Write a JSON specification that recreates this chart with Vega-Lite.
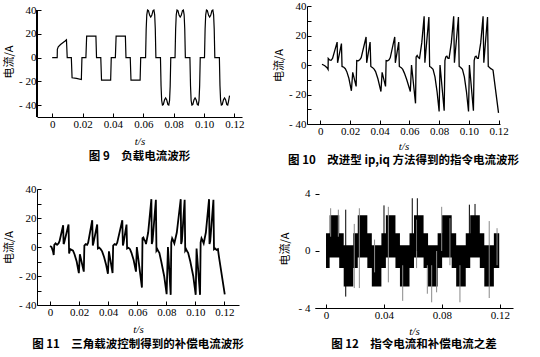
{
  "$schema": "https://vega.github.io/schema/vega-lite/v6.json",
  "padding": {"left": 3, "top": 0, "right": 4, "bottom": 2},
  "background": "white",
  "config": {
    "view": {"stroke": null},
    "axis": {"domainColor": "black", "tickColor": "black", "labelColor": "black", "titleColor": "black", "labelFont": "Liberation Serif", "labelFontSize": 11, "grid": false, "tickSize": -4, "domainWidth": 1, "tickWidth": 1, "labelPadding": 5, "titleFontWeight": "normal", "titleFontSize": 11, "labelOverlap": false},
    "axisX": {"titleFont": "Liberation Serif", "titleFontStyle": "italic", "titlePadding": 6, "labelExpr": "datum.value == 0 ? '0' : format(datum.value, '.2f')"},
    "axisY": {"titleFont": "Noto Sans CJK SC", "titlePadding": 4, "labelExpr": "datum.value < 0 ? '- ' + format(-datum.value, 'd') : format(datum.value, 'd')"},
    "title": {"orient": "bottom", "font": "Noto Sans CJK SC", "fontSize": 11.5, "fontWeight": "bold", "color": "black", "anchor": "middle", "offset": 5}
  },
  "spacing": 16,
  "vconcat": [
    {
      "spacing": 28,
      "hconcat": [
        {
          "width": 205, "height": 111,
          "title": {"text": "图 9　负载电流波形"},
          "data": {"values": [
            {"t": 0, "v": 0}, {"t": 0.0033, "v": 0}, {"t": 0.0034, "v": 7}, {"t": 0.004, "v": 9}, {"t": 0.0055, "v": 11}, {"t": 0.007, "v": 12.5}, {"t": 0.0085, "v": 14}, {"t": 0.0094, "v": 15}, {"t": 0.0099, "v": 0},
            {"t": 0.0126, "v": 0}, {"t": 0.0131, "v": -17}, {"t": 0.016, "v": -17.5}, {"t": 0.0192, "v": -18.5}, {"t": 0.0196, "v": 0},
            {"t": 0.0222, "v": 0}, {"t": 0.0227, "v": 18}, {"t": 0.0288, "v": 18}, {"t": 0.0292, "v": 0},
            {"t": 0.032, "v": 0}, {"t": 0.0325, "v": -19}, {"t": 0.0385, "v": -19}, {"t": 0.0389, "v": 0},
            {"t": 0.0416, "v": 0}, {"t": 0.0421, "v": 18}, {"t": 0.0482, "v": 18}, {"t": 0.0486, "v": 0},
            {"t": 0.0514, "v": 0}, {"t": 0.0519, "v": -19}, {"t": 0.0579, "v": -19}, {"t": 0.0583, "v": 0},
            {"t": 0.0615, "v": 0}, {"t": 0.0619, "v": 24}, {"t": 0.0623, "v": 36}, {"t": 0.0628, "v": 40}, {"t": 0.0634, "v": 39.5}, {"t": 0.0642, "v": 35.5}, {"t": 0.0649, "v": 34}, {"t": 0.0656, "v": 35.5}, {"t": 0.0664, "v": 39.5}, {"t": 0.067, "v": 40}, {"t": 0.0675, "v": 36}, {"t": 0.0679, "v": 24}, {"t": 0.0683, "v": 0},
            {"t": 0.0713, "v": 0}, {"t": 0.0717, "v": -24}, {"t": 0.0721, "v": -36}, {"t": 0.0726, "v": -40}, {"t": 0.0732, "v": -39.5}, {"t": 0.074, "v": -35.5}, {"t": 0.0747, "v": -34}, {"t": 0.0754, "v": -35.5}, {"t": 0.0762, "v": -39.5}, {"t": 0.0768, "v": -40}, {"t": 0.0773, "v": -36}, {"t": 0.0777, "v": -24}, {"t": 0.0781, "v": 0},
            {"t": 0.0809, "v": 0}, {"t": 0.0813, "v": 24}, {"t": 0.0817, "v": 36}, {"t": 0.0822, "v": 40}, {"t": 0.0828, "v": 39.5}, {"t": 0.0836, "v": 35.5}, {"t": 0.0843, "v": 34}, {"t": 0.085, "v": 35.5}, {"t": 0.0858, "v": 39.5}, {"t": 0.0864, "v": 40}, {"t": 0.0869, "v": 36}, {"t": 0.0873, "v": 24}, {"t": 0.0877, "v": 0},
            {"t": 0.0907, "v": 0}, {"t": 0.0911, "v": -24}, {"t": 0.0915, "v": -36}, {"t": 0.092, "v": -40}, {"t": 0.0926, "v": -39.5}, {"t": 0.0934, "v": -35.5}, {"t": 0.0941, "v": -34}, {"t": 0.0948, "v": -35.5}, {"t": 0.0956, "v": -39.5}, {"t": 0.0962, "v": -40}, {"t": 0.0967, "v": -36}, {"t": 0.0971, "v": -24}, {"t": 0.0975, "v": 0},
            {"t": 0.1003, "v": 0}, {"t": 0.1007, "v": 24}, {"t": 0.1011, "v": 36}, {"t": 0.1016, "v": 40}, {"t": 0.1022, "v": 39.5}, {"t": 0.103, "v": 35.5}, {"t": 0.1037, "v": 34}, {"t": 0.1044, "v": 35.5}, {"t": 0.1052, "v": 39.5}, {"t": 0.1058, "v": 40}, {"t": 0.1063, "v": 36}, {"t": 0.1067, "v": 24}, {"t": 0.1071, "v": 0},
            {"t": 0.1101, "v": 0}, {"t": 0.1105, "v": -24}, {"t": 0.1109, "v": -36}, {"t": 0.1114, "v": -40}, {"t": 0.112, "v": -39.5}, {"t": 0.1128, "v": -35.5}, {"t": 0.1135, "v": -34}, {"t": 0.1142, "v": -35.5}, {"t": 0.115, "v": -39.5}, {"t": 0.1156, "v": -40}, {"t": 0.1161, "v": -37}, {"t": 0.1168, "v": -32}
          ]},
          "layer": [
            {
              "mark": {"type": "line", "color": "black", "strokeWidth": 1.2},
              "encoding": {
                "x": {"field": "t", "type": "quantitative", "scale": {"domain": [-0.01, 0.125], "nice": false, "zero": false}, "axis": {"values": [0, 0.02, 0.04, 0.06, 0.08, 0.1, 0.12], "title": "t/s"}},
                "y": {"field": "v", "type": "quantitative", "scale": {"domain": [-50, 43.4], "nice": false}, "axis": {"values": [-40, -20, 0, 20, 40], "title": "电流/A", "domain": false}}
              }
            },
            {
              "mark": {"type": "rule", "color": "black", "strokeWidth": 1},
              "encoding": {
                "x": {"datum": -0.01, "type": "quantitative", "axis": {"values": [0, 0.02, 0.04, 0.06, 0.08, 0.1, 0.12], "title": "t/s"}},
                "y": {"datum": -50, "type": "quantitative", "axis": {"values": [-40, -20, 0, 20, 40], "title": "电流/A", "domain": false}},
                "y2": {"datum": 40}
              }
            }
          ]
        },
        {
          "width": 193, "height": 118,
          "title": {"text": "图 10　改进型 ip,iq 方法得到的指令电流波形", "offset": 4},
          "data": {"values": [
            {"t": 0.0011, "v": 0.5}, {"t": 0.003, "v": -0.5}, {"t": 0.0045, "v": -1.8}, {"t": 0.0052, "v": -3}, {"t": 0.0053, "v": 4.5}, {"t": 0.0062, "v": 3.5}, {"t": 0.0072, "v": 3.2}, {"t": 0.0082, "v": 4.5}, {"t": 0.0113, "v": 15.5}, {"t": 0.0116, "v": 1.5}, {"t": 0.0142, "v": 14.5}, {"t": 0.0146, "v": -1}, {"t": 0.0158, "v": -1.5}, {"t": 0.0168, "v": -2.5}, {"t": 0.0178, "v": -4.5}, {"t": 0.0192, "v": -9}, {"t": 0.0209, "v": -17.5}, {"t": 0.0218, "v": -5}, {"t": 0.0241, "v": -14.5},
            {"t": 0.0245, "v": 3}, {"t": 0.0255, "v": 2.8}, {"t": 0.0265, "v": 3.5}, {"t": 0.0275, "v": 5}, {"t": 0.0308, "v": 19}, {"t": 0.0312, "v": 1.5}, {"t": 0.0335, "v": 15.5}, {"t": 0.034, "v": -1}, {"t": 0.0352, "v": -1.8}, {"t": 0.0362, "v": -2.8}, {"t": 0.0372, "v": -4.5}, {"t": 0.0388, "v": -9.5}, {"t": 0.0408, "v": -18}, {"t": 0.0416, "v": -5}, {"t": 0.0439, "v": -14.5},
            {"t": 0.0443, "v": 3}, {"t": 0.0453, "v": 2.8}, {"t": 0.0463, "v": 3.5}, {"t": 0.0471, "v": 5}, {"t": 0.0501, "v": 19}, {"t": 0.0505, "v": 1.5}, {"t": 0.0528, "v": 15.5}, {"t": 0.0532, "v": -1}, {"t": 0.0545, "v": -1.8}, {"t": 0.0555, "v": -3}, {"t": 0.0566, "v": -5.5}, {"t": 0.0582, "v": -10}, {"t": 0.0606, "v": -18}, {"t": 0.0614, "v": 0}, {"t": 0.0641, "v": -26},
            {"t": 0.0645, "v": 5.5}, {"t": 0.0652, "v": 6.5}, {"t": 0.066, "v": 5}, {"t": 0.0668, "v": 4.5}, {"t": 0.0683, "v": 15}, {"t": 0.0699, "v": 33}, {"t": 0.0704, "v": 1.5}, {"t": 0.0731, "v": 32.5}, {"t": 0.0736, "v": -1}, {"t": 0.0745, "v": -1.5}, {"t": 0.0759, "v": -3}, {"t": 0.0772, "v": -8}, {"t": 0.0786, "v": -18}, {"t": 0.08, "v": -31.5}, {"t": 0.0806, "v": 0}, {"t": 0.0834, "v": -31},
            {"t": 0.0839, "v": 3}, {"t": 0.0845, "v": 5.5}, {"t": 0.0852, "v": 6}, {"t": 0.086, "v": 4.5}, {"t": 0.0867, "v": 4.5}, {"t": 0.0882, "v": 15}, {"t": 0.0898, "v": 33}, {"t": 0.0903, "v": 1.5}, {"t": 0.093, "v": 32.5}, {"t": 0.0935, "v": -1}, {"t": 0.0944, "v": -1.5}, {"t": 0.0957, "v": -3}, {"t": 0.097, "v": -8}, {"t": 0.0984, "v": -18}, {"t": 0.0998, "v": -31.5}, {"t": 0.1004, "v": 0}, {"t": 0.1031, "v": -31},
            {"t": 0.1036, "v": 3}, {"t": 0.1042, "v": 5.5}, {"t": 0.1049, "v": 6}, {"t": 0.1057, "v": 4.5}, {"t": 0.1064, "v": 4.5}, {"t": 0.108, "v": 15}, {"t": 0.1096, "v": 33}, {"t": 0.1101, "v": 1.5}, {"t": 0.1126, "v": 32.5}, {"t": 0.1131, "v": -1}, {"t": 0.1138, "v": -1.5}, {"t": 0.1148, "v": -2.5}, {"t": 0.1158, "v": -3}, {"t": 0.1163, "v": -3.5}, {"t": 0.12, "v": -32.5}
          ]},
          "mark": {"type": "line", "color": "black", "strokeWidth": 1.3},
          "encoding": {
            "x": {"field": "t", "type": "quantitative", "scale": {"domain": [-0.009, 0.121], "nice": false, "zero": false}, "axis": {"values": [0, 0.02, 0.04, 0.06, 0.08, 0.1, 0.12], "title": "t/s", "titlePadding": 4}},
            "y": {"field": "v", "type": "quantitative", "scale": {"domain": [-40, 40], "nice": false}, "axis": {"values": [-40, -30, -20, -10, 0, 10, 20, 30, 40], "title": "电流/A", "labelExpr": "datum.value % 20 != 0 ? '' : (datum.value < 0 ? '- ' + format(-datum.value, 'd') : format(datum.value, 'd'))"}}
          }
        }
      ]
    },
    {
      "spacing": 35,
      "hconcat": [
        {
          "width": 202, "height": 116,
          "title": {"text": "图 11　三角载波控制得到的补偿电流波形"},
          "data": {"values": [
            {"t": 0, "v": 0.7}, {"t": 0.001, "v": 0}, {"t": 0.002, "v": -3}, {"t": 0.0025, "v": -5.5}, {"t": 0.0029, "v": 1.5}, {"t": 0.0038, "v": 2.5}, {"t": 0.0048, "v": 1.5}, {"t": 0.0058, "v": 2.5}, {"t": 0.0065, "v": 4}, {"t": 0.009, "v": 15}, {"t": 0.0093, "v": 2}, {"t": 0.0097, "v": 3}, {"t": 0.0127, "v": 15.5}, {"t": 0.0131, "v": -4.5}, {"t": 0.0138, "v": -1.5}, {"t": 0.0148, "v": -2}, {"t": 0.0158, "v": -2.5}, {"t": 0.0168, "v": -5}, {"t": 0.0183, "v": -10}, {"t": 0.0198, "v": -18}, {"t": 0.0205, "v": -5}, {"t": 0.0232, "v": -17},
            {"t": 0.0236, "v": 1}, {"t": 0.0245, "v": 2}, {"t": 0.0255, "v": 1.5}, {"t": 0.0262, "v": 3}, {"t": 0.029, "v": 18.5}, {"t": 0.0294, "v": 1}, {"t": 0.0298, "v": 2.5}, {"t": 0.0324, "v": 15.5}, {"t": 0.0329, "v": -1}, {"t": 0.0338, "v": -0.5}, {"t": 0.0348, "v": -1.5}, {"t": 0.0358, "v": -3}, {"t": 0.0372, "v": -7}, {"t": 0.0385, "v": -12}, {"t": 0.0398, "v": -18.5}, {"t": 0.0405, "v": -3}, {"t": 0.043, "v": -18},
            {"t": 0.0434, "v": 1}, {"t": 0.0444, "v": 2}, {"t": 0.0454, "v": 1.5}, {"t": 0.0462, "v": 3}, {"t": 0.0497, "v": 18.5}, {"t": 0.0501, "v": 1}, {"t": 0.0505, "v": 2.5}, {"t": 0.0526, "v": 15.5}, {"t": 0.053, "v": -1}, {"t": 0.054, "v": -0.5}, {"t": 0.055, "v": -1.5}, {"t": 0.056, "v": -4}, {"t": 0.0575, "v": -9}, {"t": 0.0591, "v": -17}, {"t": 0.0597, "v": 0}, {"t": 0.0632, "v": -28},
            {"t": 0.0636, "v": 6}, {"t": 0.0642, "v": 6.5}, {"t": 0.0648, "v": 5}, {"t": 0.0655, "v": 4}, {"t": 0.066, "v": 2}, {"t": 0.0675, "v": 10}, {"t": 0.0697, "v": 33}, {"t": 0.07, "v": 2}, {"t": 0.0705, "v": 4}, {"t": 0.0728, "v": 32.5}, {"t": 0.0732, "v": -2.5}, {"t": 0.0738, "v": -1.5}, {"t": 0.0745, "v": -3}, {"t": 0.0752, "v": -4}, {"t": 0.0765, "v": -10}, {"t": 0.0785, "v": -20}, {"t": 0.0802, "v": -32.5}, {"t": 0.0811, "v": 0}, {"t": 0.083, "v": -33},
            {"t": 0.0834, "v": 3}, {"t": 0.084, "v": 6}, {"t": 0.0847, "v": 4.5}, {"t": 0.0855, "v": 2.5}, {"t": 0.0872, "v": 10}, {"t": 0.0899, "v": 33}, {"t": 0.0902, "v": 2}, {"t": 0.0907, "v": 4}, {"t": 0.0926, "v": 32.5}, {"t": 0.093, "v": -2.5}, {"t": 0.0936, "v": -1.5}, {"t": 0.0943, "v": -3}, {"t": 0.095, "v": -4}, {"t": 0.0965, "v": -10}, {"t": 0.0985, "v": -20}, {"t": 0.1002, "v": -33}, {"t": 0.1008, "v": -1}, {"t": 0.1032, "v": -33},
            {"t": 0.1036, "v": 3}, {"t": 0.1042, "v": 6}, {"t": 0.1049, "v": 4.5}, {"t": 0.1057, "v": 2.5}, {"t": 0.1072, "v": 10}, {"t": 0.1094, "v": 33}, {"t": 0.1097, "v": 2}, {"t": 0.1102, "v": 4}, {"t": 0.1124, "v": 32.5}, {"t": 0.1128, "v": -1.5}, {"t": 0.1135, "v": -1}, {"t": 0.1145, "v": -2}, {"t": 0.1155, "v": -1.5}, {"t": 0.1163, "v": -7.4}, {"t": 0.1202, "v": -32.6}
          ]},
          "mark": {"type": "line", "color": "black", "strokeWidth": 1.8},
          "encoding": {
            "x": {"field": "t", "type": "quantitative", "scale": {"domain": [-0.009, 0.13], "nice": false, "zero": false}, "axis": {"values": [0, 0.02, 0.04, 0.06, 0.08, 0.1, 0.12], "title": "t/s"}},
            "y": {"field": "v", "type": "quantitative", "scale": {"domain": [-40, 40], "nice": false}, "axis": {"values": [-40, -30, -20, -10, 0, 10, 20, 30, 40], "title": "电流/A", "labelExpr": "datum.value % 20 != 0 ? '' : (datum.value < 0 ? '- ' + format(-datum.value, 'd') : format(datum.value, 'd'))"}}
          }
        },
        {
          "width": 198, "height": 119,
          "title": {"text": "图 12　指令电流和补偿电流之差", "offset": 3},
          "layer": [
            {
              "data": {"values": [
                {"t": 0, "lo": -1.2, "hi": 1.25}, {"t": 0.0025, "lo": -0.45, "hi": 2.5}, {"t": 0.0091, "lo": -1.2, "hi": 1.25}, {"t": 0.0122, "lo": -2.5, "hi": 0.4}, {"t": 0.0188, "lo": -1.2, "hi": 1.25},
                {"t": 0.0219, "lo": -0.45, "hi": 2.5}, {"t": 0.0285, "lo": -1.2, "hi": 1.25}, {"t": 0.0316, "lo": -2.5, "hi": 0.4}, {"t": 0.0382, "lo": -1.2, "hi": 1.25},
                {"t": 0.0413, "lo": -0.45, "hi": 2.5}, {"t": 0.0479, "lo": -1.2, "hi": 1.25}, {"t": 0.051, "lo": -2.5, "hi": 0.4}, {"t": 0.0576, "lo": -1.2, "hi": 1.25},
                {"t": 0.0607, "lo": -0.45, "hi": 2.5}, {"t": 0.0673, "lo": -1.2, "hi": 1.25}, {"t": 0.0704, "lo": -2.5, "hi": 0.4}, {"t": 0.077, "lo": -1.2, "hi": 1.25},
                {"t": 0.0801, "lo": -0.45, "hi": 2.5}, {"t": 0.0867, "lo": -1.2, "hi": 1.25}, {"t": 0.0898, "lo": -2.5, "hi": 0.4}, {"t": 0.0964, "lo": -1.2, "hi": 1.25},
                {"t": 0.0995, "lo": -0.45, "hi": 2.5}, {"t": 0.1061, "lo": -1.2, "hi": 1.25}, {"t": 0.1092, "lo": -2.5, "hi": 0.4}, {"t": 0.1158, "lo": -1.2, "hi": 1.25}, {"t": 0.1195, "lo": -1.2, "hi": 1.25}
              ]},
              "mark": {"type": "area", "color": "black", "interpolate": "step-after", "opacity": 1},
              "encoding": {
                "x": {"field": "t", "type": "quantitative", "scale": {"domain": [-0.0076, 0.129], "nice": false, "zero": false}, "axis": {"values": [0, 0.02, 0.04, 0.06, 0.08, 0.1, 0.12], "title": "t/s", "titlePadding": 5}},
                "y": {"field": "lo", "type": "quantitative", "scale": {"domain": [-4, 4.35], "nice": false}, "axis": {"values": [-4, -3, -2, -1, 0, 1, 2, 3, 4], "title": "电流/A", "domain": false, "labelPadding": 9, "titlePadding": 8, "labelExpr": "datum.value % 2 != 0 ? '' : (datum.value < 0 ? '- ' + format(-datum.value, 'd') : format(datum.value, 'd'))"}},
                "y2": {"field": "hi"}
              }
            },
            {
              "data": {"values": [
                {"t": 0.0032, "lo": 1, "hi": 3.0}, {"t": 0.0085, "lo": 1, "hi": 2.9}, {"t": 0.023, "lo": -2.6, "hi": 3.0}, {"t": 0.0195, "lo": -2.6, "hi": 1.9}, {"t": 0.043, "lo": -2.2, "hi": 3.1}, {"t": 0.0529, "lo": -3.5, "hi": -1}, {"t": 0.0699, "lo": -3.0, "hi": -1}, {"t": 0.0729, "lo": -3.6, "hi": -1}, {"t": 0.0763, "lo": -2.9, "hi": 0}, {"t": 0.0798, "lo": 0, "hi": 3.1}, {"t": 0.0924, "lo": -3.6, "hi": -1}, {"t": 0.1126, "lo": -3.3, "hi": 2.1}, {"t": 0.118, "lo": -1, "hi": 1.6}, {"t": 0.0335, "lo": -1.5, "hi": 0.8}, {"t": 0.0625, "lo": -1.2, "hi": 2.2}, {"t": 0.0855, "lo": -1, "hi": 2.3}
              ]},
              "mark": {"type": "rule", "color": "#8a8a8a", "strokeWidth": 1},
              "encoding": {"x": {"field": "t", "type": "quantitative"}, "y": {"field": "lo", "type": "quantitative"}, "y2": {"field": "hi"}}
            },
            {
              "data": {"values": [
                {"t": 0.0136, "lo": -3.2, "hi": 2.9}, {"t": 0.04, "lo": -1, "hi": 3.2}, {"t": 0.0595, "lo": -1, "hi": 3.7}, {"t": 0.063, "lo": 0, "hi": 3.7}, {"t": 0.0989, "lo": 0, "hi": 3.25}, {"t": 0.1028, "lo": 0, "hi": 3.3}
              ]},
              "mark": {"type": "rule", "color": "black", "strokeWidth": 1},
              "encoding": {"x": {"field": "t", "type": "quantitative"}, "y": {"field": "lo", "type": "quantitative"}, "y2": {"field": "hi"}}
            },
            {
              "mark": {"type": "rule", "color": "black", "strokeWidth": 1},
              "encoding": {
                "x": {"datum": -0.0076, "type": "quantitative", "axis": {"values": [0, 0.02, 0.04, 0.06, 0.08, 0.1, 0.12], "title": "t/s", "titlePadding": 5}},
                "y": {"datum": -4, "type": "quantitative", "axis": {"values": [-4, -3, -2, -1, 0, 1, 2, 3, 4], "title": "电流/A", "domain": false, "labelPadding": 9, "titlePadding": 8, "labelExpr": "datum.value % 2 != 0 ? '' : (datum.value < 0 ? '- ' + format(-datum.value, 'd') : format(datum.value, 'd'))"}},
                "y2": {"datum": 4}
              }
            }
          ]
        }
      ]
    }
  ]
}
